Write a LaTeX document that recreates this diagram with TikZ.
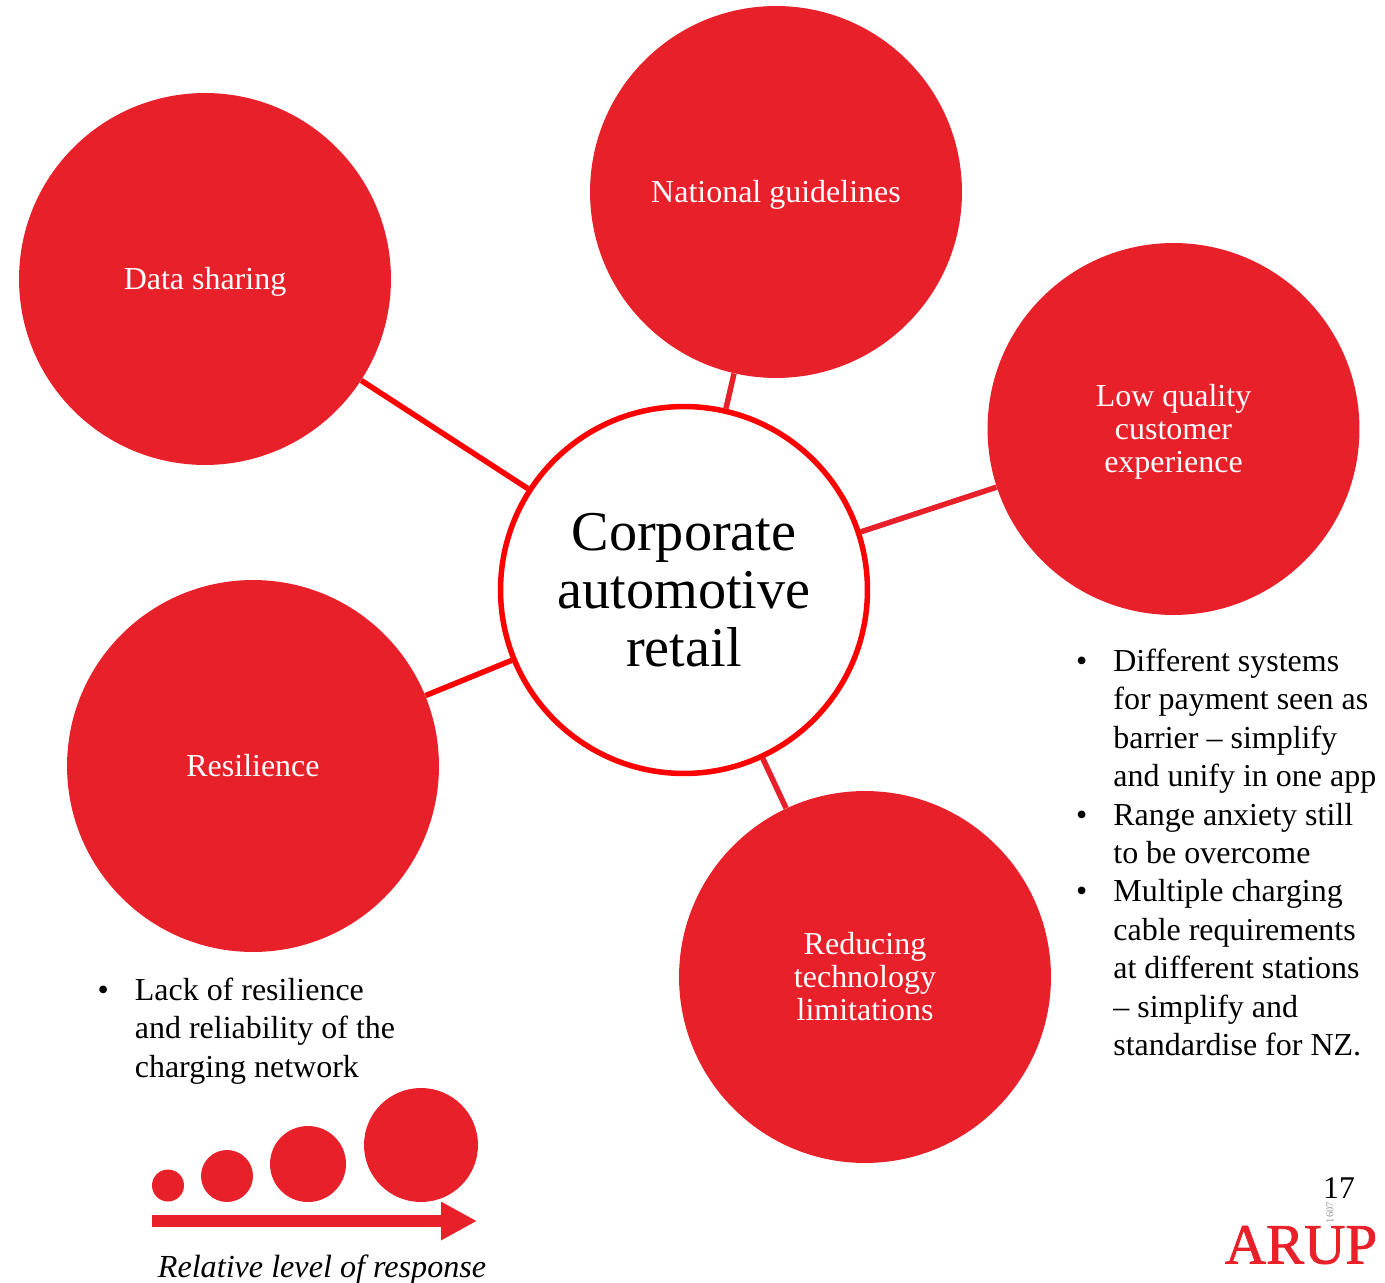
\documentclass[tikz,border=0pt]{standalone}
\usepackage{fontspec}
\setmainfont{Liberation Serif}
\newfontfamily\logofont[FakeBold=1.3]{Liberation Serif}
\usetikzlibrary{arrows.meta}
\definecolor{arupred}{HTML}{E7202A}
\definecolor{corered}{HTML}{FF0000}
\newcommand{\bul}{\llap{\textbullet\hspace{14.8pt}}}
\newcommand{\lowline}[1]{\raisebox{0pt}[\height][1.2pt]{#1}}
\tikzset{%
	theme/.style={shape=circle,fill=arupred,text=white,inner sep=0pt,minimum size=7.44cm,align=center,font=\fontsize{18.2}{18.8}\selectfont},
	core/.style={shape=circle,draw=corered,line width=0.11cm,fill=white,inner sep=0pt,minimum size=7.34cm,align=center,font=\fontsize{32}{33}\selectfont},
	link/.style={draw=arupred,line width=0.11cm},
	hotlink/.style={draw=corered,line width=0.11cm},
	dot/.style={shape=circle,fill=arupred,inner sep=0pt},
	notes/.style={anchor=west,inner sep=0pt,align=left,font=\fontsize{18.2}{21.85}\selectfont},
}

\begin{document}
\begin{tikzpicture}[x=0.02cm,y=-0.02cm]
			\useasboundingbox (0,0) rectangle (1385,1283);
			
			%krogi
			\node[core] (corp) at (684,590) {Corporate\\automotive\\retail};
			\node[theme] (data) at (205,279) {\lowline{Data sharing}};
			\node[theme] (national) at (776,192) {\lowline{National guidelines}};
			\node[theme] (quality) at (1173.5,429) {Low quality\\customer\\\lowline{experience}};
			\node[theme] (resilience) at (253,766) {Resilience};
			\node[theme] (limits) at (865,977) {Reducing\\technology\\limitations};
			
			%povezave
			\draw[hotlink] (corp) -- (data);
			\draw[link] (corp) -- (national);
			\draw[link] (corp) -- (quality);
			\draw[hotlink] (corp) -- (resilience);
			\draw[link] (corp) -- (limits);
			
			%opombe
			\node[notes] (lack) at (134.5,1031) {\bul Lack of resilience\\and reliability of the\\charging network};
			\node[notes] (barriers) at (1113,852.5) {\bul Different systems\\for payment seen as\\barrier -- simplify\\and unify in one app\\\bul Range anxiety still\\to be overcome\\\bul Multiple charging\\cable requirements\\at different stations\\-- simplify and\\standardise for NZ.};
			
			%legenda
			\node[dot,minimum size=0.64cm] (dota) at (168,1185.5) {};
			\node[dot,minimum size=1.04cm] (dotb) at (227,1176) {};
			\node[dot,minimum size=1.52cm] (dotc) at (308,1164) {};
			\node[dot,minimum size=2.28cm] (dotd) at (421,1145) {};
			\coordinate (start) at (152,1221);
			\coordinate (end) at (477,1221);
			\draw[arupred,line width=0.24cm,-{Triangle[length=0.72cm,width=0.72cm]}] (start) -- (end);
			\node[inner sep=0pt,font=\fontsize{18.3}{20}\itshape] (scale) at (322,1269.5) {Relative level of response};
			
			%noga
			\node[inner sep=0pt,text=arupred,font=\fontsize{32.5}{34}\logofont] (logo) at (1301,1245) {ARUP};
			\node[inner sep=0pt,font=\fontsize{18}{20}\selectfont] (page) at (1339,1188) {17};
			\node[inner sep=0pt,text=gray!80,rotate=90,font=\fontsize{6}{7}\selectfont] (code) at (1330,1212.5) {1607};
		\end{tikzpicture}
\end{document}
